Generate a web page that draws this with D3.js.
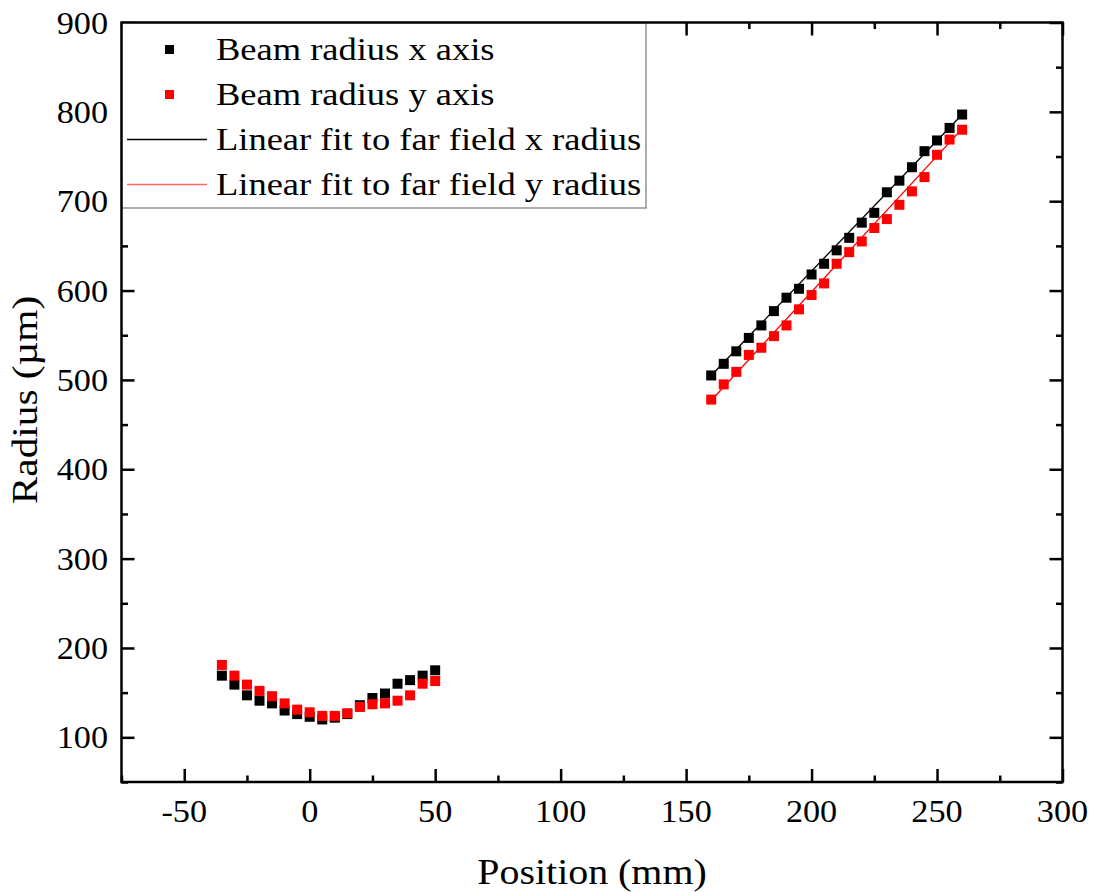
<!DOCTYPE html>
<html>
<head>
<meta charset="utf-8">
<script src="https://cdn.jsdelivr.net/npm/d3@7"></script>
<style>
  html, body { margin: 0; padding: 0; background: #fff; }
  svg { display: block; }
  text { font-family: "Liberation Serif", "Times New Roman", serif; fill: #000; }
</style>
</head>
<body>
<svg id="chart" width="1095" height="893"></svg>
<script>
// Measurement positions (mm)
const nearPos = [-35, -30, -25, -20, -15, -10, -5, 0, 5, 10, 15, 20, 25, 30, 35, 40, 45, 50];
const farPos = [160, 165, 170, 175, 180, 185, 190, 195, 200, 205, 210, 215, 220, 225, 230, 235, 240, 245, 250, 255, 260];

// Beam radius (µm), x axis
const nearRadiusX = [169, 159, 147, 141, 138, 130, 126, 123, 120, 122, 126, 136, 144, 149, 160, 164, 169, 175];
const farRadiusX = [505, 518, 532, 547, 561, 577, 592, 602, 618, 630, 645, 659, 676, 687, 710, 723, 738, 756, 768, 782, 797];

// Beam radius (µm), y axis
const nearRadiusY = [181, 169, 159, 152, 146, 138, 131, 128, 124, 124, 127, 134, 137, 138, 141, 147, 160, 163];
const farRadiusY = [478, 495, 509, 528, 536, 549, 561, 579, 595, 608, 630, 643, 655, 670, 680, 696, 711, 727, 752, 769, 780];

// Linear fits to the far-field radii (end points of the fitted lines)
const fitPos = [160, 260];
const fitRadiusX = [505, 797];
const fitRadiusY = [477, 781];

// Axis ticks
const xMajorTicks = [-50, 0, 50, 100, 150, 200, 250, 300];
const xMinorTicks = [-75, -25, 25, 75, 125, 175, 225, 275];
const yMajorTicks = [100, 200, 300, 400, 500, 600, 700, 800, 900];
const yMinorTicks = [50, 150, 250, 350, 450, 550, 650, 750, 850];

const legendLabels = [
  "Beam radius x axis",
  "Beam radius y axis",
  "Linear fit to far field x radius",
  "Linear fit to far field y radius"
];

const svg = d3.select("#chart");
const plotLeft = 121.5, plotRight = 1062.5, plotTop = 22.5, plotBottom = 782;

const x = d3.scaleLinear().domain([-75, 300]).range([plotLeft, plotRight]);
const y = d3.scaleLinear().domain([50, 900]).range([plotBottom, plotTop]);

const majorLen = 13, minorLen = 6.5;
const wide = 1.14; // horizontal widening of the serif lettering

// Fit lines
const line = d3.line().x(d => x(d[0])).y(d => y(d[1]));
const fits = [
  { vals: fitRadiusX, color: "#000" },
  { vals: fitRadiusY, color: "#ff0000" }
];
svg.append("g").selectAll("path").data(fits).join("path")
  .attr("d", d => line(fitPos.map((p, i) => [p, d.vals[i]])))
  .attr("fill", "none")
  .attr("stroke", d => d.color)
  .attr("stroke-width", 1.3);

// Scatter points
const ms = 10;
function drawSquares(pos, vals, color) {
  svg.append("g").selectAll("rect").data(pos.map((p, i) => [p, vals[i]])).join("rect")
    .attr("x", d => x(d[0]) - ms / 2)
    .attr("y", d => y(d[1]) - ms / 2)
    .attr("width", ms).attr("height", ms)
    .attr("fill", color);
}
drawSquares(nearPos, nearRadiusX, "#000");
drawSquares(farPos, farRadiusX, "#000");
drawSquares(nearPos, nearRadiusY, "#ff0000");
drawSquares(farPos, farRadiusY, "#ff0000");

// Axes: inward ticks on all four sides
const tickStyle = g => g.call(s => s.select(".domain").remove())
  .call(s => s.selectAll("text").remove())
  .selectAll("line").attr("stroke", "#000").attr("stroke-width", 2.5);

function ticks(axisFn, pos, scale, values, len) {
  svg.append("g").attr("transform", pos)
    .call(axisFn(scale).tickValues(values).tickSize(-len))
    .call(tickStyle);
}
ticks(d3.axisBottom, `translate(0,${plotBottom})`, x, xMajorTicks, majorLen);
ticks(d3.axisBottom, `translate(0,${plotBottom})`, x, xMinorTicks, minorLen);
ticks(d3.axisTop, `translate(0,${plotTop})`, x, xMajorTicks, majorLen);
ticks(d3.axisTop, `translate(0,${plotTop})`, x, xMinorTicks, minorLen);
ticks(d3.axisLeft, `translate(${plotLeft},0)`, y, yMajorTicks, majorLen);
ticks(d3.axisLeft, `translate(${plotLeft},0)`, y, yMinorTicks, minorLen);
ticks(d3.axisRight, `translate(${plotRight},0)`, y, yMajorTicks, majorLen);
ticks(d3.axisRight, `translate(${plotRight},0)`, y, yMinorTicks, minorLen);

// Tick labels
const fmt = d => (d < 0 ? "-" + Math.abs(d) : String(d));
svg.append("g").selectAll("text").data(xMajorTicks).join("text")
  .attr("transform", d => `translate(${x(d)},822) scale(1.07,1)`)
  .attr("text-anchor", "middle").attr("font-size", 32).text(fmt);
svg.append("g").selectAll("text").data(yMajorTicks).join("text")
  .attr("transform", d => `translate(108,${y(d) + 11}) scale(1.07,1)`)
  .attr("text-anchor", "end").attr("font-size", 32).text(fmt);

// Legend box
const lg = svg.append("g");
lg.append("rect")
  .attr("x", plotLeft).attr("y", plotTop).attr("width", 646 - plotLeft).attr("height", 208 - plotTop)
  .attr("fill", "#fff").attr("stroke", "#777").attr("stroke-width", 1.2);

const rowBase = [60, 105, 150, 195];
legendLabels.forEach((lab, i) => {
  const cy = rowBase[i] - 10.5;
  if (i < 2) {
    lg.append("rect").attr("x", 165).attr("y", cy - 4.5).attr("width", 9).attr("height", 9)
      .attr("fill", i === 0 ? "#000" : "#ff0000");
  } else {
    lg.append("line").attr("x1", 127).attr("x2", 207).attr("y1", cy).attr("y2", cy)
      .attr("stroke", i === 2 ? "#000" : "#ff6666").attr("stroke-width", 1.3);
  }
  lg.append("text").attr("transform", `translate(216,${rowBase[i]}) scale(${wide},1)`)
    .attr("font-size", 32).text(lab);
});

// Plot frame
svg.append("rect")
  .attr("x", plotLeft).attr("y", plotTop).attr("width", plotRight - plotLeft).attr("height", plotBottom - plotTop)
  .attr("fill", "none").attr("stroke", "#000").attr("stroke-width", 2.5);

// Axis titles
svg.append("text").attr("transform", `translate(592,884) scale(${wide},1)`)
  .attr("text-anchor", "middle").attr("font-size", 35).text("Position (mm)");
svg.append("text").attr("transform", `translate(37,400) rotate(-90) scale(1.18,1)`)
  .attr("text-anchor", "middle").attr("font-size", 35).text("Radius (µm)");
</script>
</body>
</html>
